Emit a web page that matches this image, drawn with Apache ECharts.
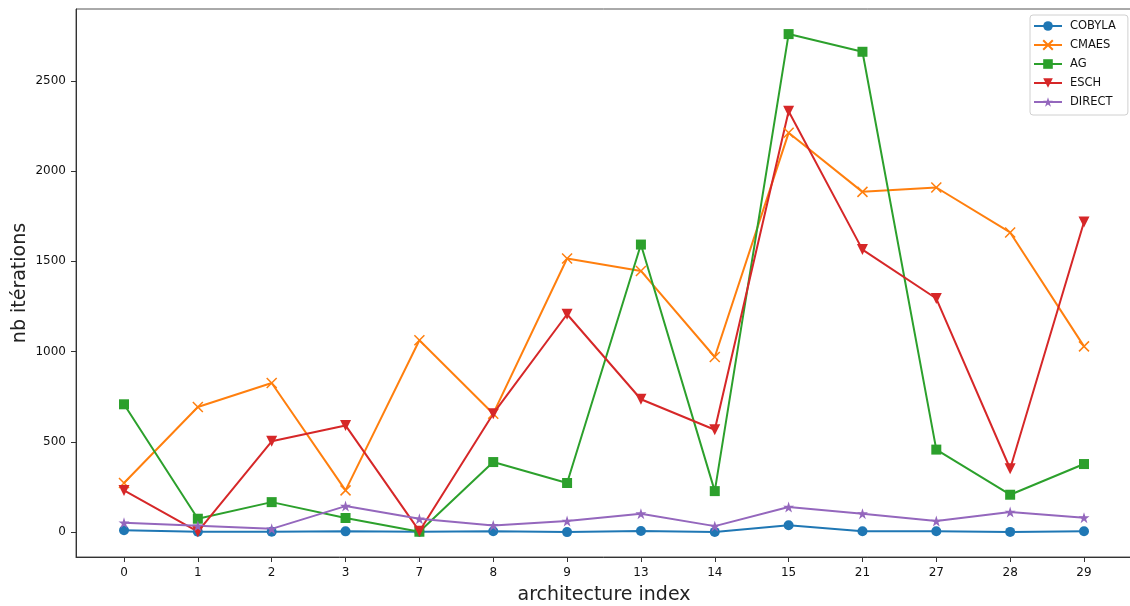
<!DOCTYPE html>
<html>
<head>
<meta charset="utf-8">
<script src="https://cdn.jsdelivr.net/npm/echarts@6/dist/echarts.min.js"></script>
<style>html,body{margin:0;padding:0;background:#fff}#c{width:1130px;height:606px}</style>
</head>
<body>
<div id="c"></div>
<script>
const categories = ['0','1','2','3','7','8','9','13','14','15','21','27','28','29'];
const cobyla = [10, 2, 2, 4, 2, 5, 0, 6, 1, 38, 5, 5, 1, 5];
const cmaes  = [272, 693, 826, 231, 1063, 656, 1516, 1447, 970, 2212, 1885, 1909, 1660, 1029];
const ag     = [708, 74, 166, 78, 2, 388, 272, 1593, 227, 2759, 2661, 457, 207, 377];
const esch   = [231, 2, 503, 591, 5, 656, 1207, 736, 567, 2332, 1565, 1294, 351, 1718];
const direct = [52, 35, 18, 144, 74, 37, 61, 102, 33, 139, 102, 61, 111, 80];
const yTicks = [0, 500, 1000, 1500, 2000, 2500];

const FONT = 'DejaVu Sans';
const idx = categories.map((_, i) => i);
const toPts = arr => arr.map((v, i) => [i, v]);

const xPath = 'path://M0,0 L10,10 M10,0 L0,10';
const starPath = 'path://M50,0 L61.2,34.5 L97.6,34.5 L68.2,55.9 L79.4,90.5 L50,69.1 L20.6,90.5 L31.8,55.9 L2.4,34.5 L38.8,34.5 Z';

function mk(name, data, color, symbol, size, extra) {
  return Object.assign({
    name: name,
    type: 'line',
    data: toPts(data),
    symbol: symbol,
    symbolSize: size,
    showSymbol: true,
    lineStyle: { color: color, width: 2 },
    itemStyle: { color: color },
    emphasis: { disabled: true },
    animation: false,
    z: 2
  }, extra || {});
}

const chart = echarts.init(document.getElementById('c'), null, { renderer: 'canvas' });
chart.setOption({
  backgroundColor: '#fff',
  animation: false,
  textStyle: { fontFamily: FONT },
  grid: {
    left: 76, top: 9, right: -2, bottom: 49,
    outerBoundsMode: 'none',
    containLabel: false,
    show: true, borderColor: '#555', borderWidth: 1, backgroundColor: 'transparent'
  },
  legend: {
    orient: 'vertical',
    left: 1030, top: 15,
    padding: [5, 12, 7, 3],
    itemWidth: 28, itemHeight: 12, itemGap: 7,
    backgroundColor: '#fff',
    borderColor: '#d0d0d0', borderWidth: 1, borderRadius: 3,
    textStyle: { fontFamily: FONT, fontSize: 11.5, color: '#111', lineHeight: 12, padding: [0, 0, 0, 3] },
    data: ['COBYLA', 'CMAES', 'AG', 'ESCH', 'DIRECT']
  },
  xAxis: {
    type: 'value',
    min: -0.65, max: 13.65,
    name: 'architecture index',
    nameLocation: 'middle',
    nameGap: 29,
    nameMoveOverlap: false,
    nameTextStyle: { fontFamily: FONT, fontSize: 19, color: '#222' },
    axisLine: { show: true, onZero: false, lineStyle: { color: '#333', width: 1 } },
    axisTick: { show: true, length: 5, customValues: idx, lineStyle: { color: '#333' } },
    axisLabel: {
      customValues: idx, margin: 10,
      fontFamily: FONT, fontSize: 12, color: '#111',
      formatter: v => categories[Math.round(v)] ?? ''
    },
    splitLine: { show: false }
  },
  yAxis: {
    type: 'value',
    min: -138, max: 2898,
    name: 'nb itérations',
    nameLocation: 'middle',
    nameGap: 46,
    nameMoveOverlap: false,
    nameTextStyle: { fontFamily: FONT, fontSize: 19, color: '#222' },
    axisLine: { show: true, onZero: false, lineStyle: { color: '#333', width: 1 } },
    axisTick: { show: true, length: 5, customValues: yTicks, lineStyle: { color: '#333' } },
    axisLabel: { customValues: yTicks, margin: 10, fontFamily: FONT, fontSize: 12, color: '#111', formatter: v => String(v) },
    splitLine: { show: false }
  },
  series: [
    mk('COBYLA', cobyla, '#1f77b4', 'circle', 10),
    mk('CMAES', cmaes, '#ff7f0e', xPath, 10, { itemStyle: { color: '#ff7f0e', borderColor: '#ff7f0e', borderWidth: 1.5 } }),
    mk('AG', ag, '#2ca02c', 'rect', 10),
    mk('ESCH', esch, '#d62728', 'triangle', 11, { symbolRotate: 180 }),
    mk('DIRECT', direct, '#9467bd', starPath, 11)
  ]
});
</script>
</body>
</html>
